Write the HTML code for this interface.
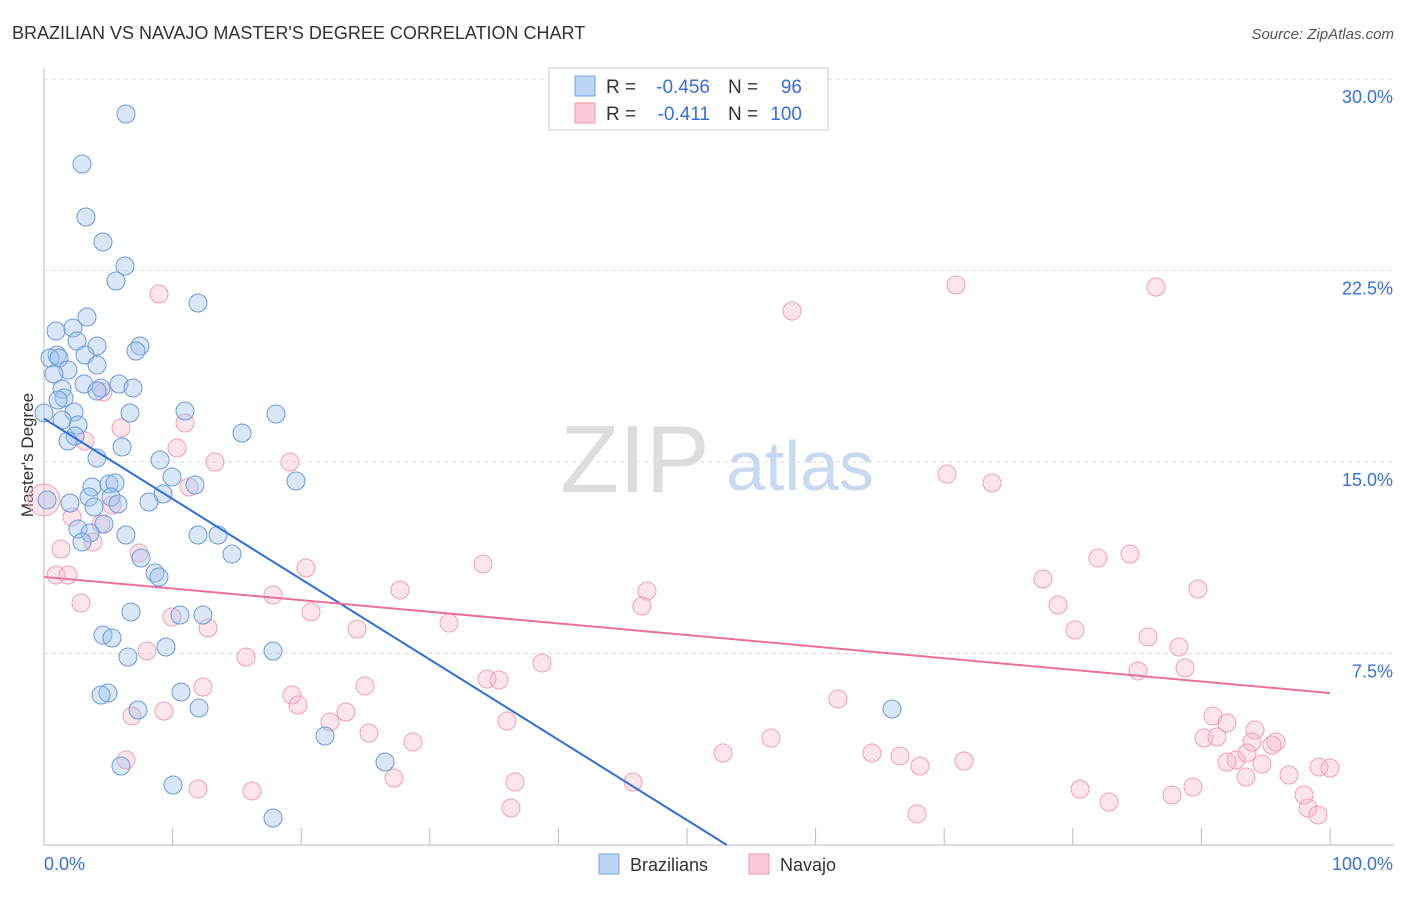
<!DOCTYPE html>
<html><head><meta charset="utf-8"><style>
body{margin:0;background:#fff;font-family:"Liberation Sans",sans-serif}
svg text{font-family:"Liberation Sans",sans-serif}
</style></head><body>
<svg id="c" width="1406" height="892" xmlns="http://www.w3.org/2000/svg">
<text x="12" y="39" font-size="18" fill="#333">BRAZILIAN VS NAVAJO MASTER'S DEGREE CORRELATION CHART</text>
<text x="1394" y="39" font-size="15" fill="#555" font-style="italic" text-anchor="end">Source: ZipAtlas.com</text>
<text x="33" y="455" font-size="17" fill="#333" text-anchor="middle" transform="rotate(-90 33 455)">Master's Degree</text>
<g><text x="635" y="492" font-size="96" fill="#ddd" font-family="Liberation Serif" text-anchor="middle">ZIP</text><text x="800" y="490" font-size="70" fill="#c9daf0" text-anchor="middle">atlas</text></g>
<g id="grid"></g><g id="pts"></g><g id="lines"></g>
<g>
<rect x="549" y="68" width="279" height="62" fill="#fff" stroke="#ccc"/>
<rect x="575" y="76" width="20" height="20" fill="#bcd4f5" stroke="#7aa5e0"/>
<rect x="575" y="103" width="20" height="20" fill="#fbc9d8" stroke="#ee99b3"/>
<text x="606" y="93" font-size="19" fill="#333">R =</text>
<text x="710" y="93" font-size="19" fill="#3a6fd8" text-anchor="end">-0.456</text>
<text x="728" y="93" font-size="19" fill="#333">N =</text>
<text x="802" y="93" font-size="19" fill="#3a6fd8" text-anchor="end">96</text>
<text x="606" y="120" font-size="19" fill="#333">R =</text>
<text x="710" y="120" font-size="19" fill="#3a6fd8" text-anchor="end">-0.411</text>
<text x="728" y="120" font-size="19" fill="#333">N =</text>
<text x="802" y="120" font-size="19" fill="#3a6fd8" text-anchor="end">100</text>
</g>
<g>
<rect x="599" y="854" width="20" height="20" fill="#bcd4f5" stroke="#7aa5e0"/>
<text x="630" y="871" font-size="18" fill="#333">Brazilians</text>
<rect x="749" y="854" width="20" height="20" fill="#fbc9d8" stroke="#ee99b3"/>
<text x="780" y="871" font-size="18" fill="#333">Navajo</text>
</g>
</svg>
<script>
const yTicks=[7.5,15,22.5,30];
const xTickLabels=["0.0%","100.0%"];
const blueX=[126,82,86,103,125,116,198,87,56,73,140,97,77,136,57,85,50,59,97,68,54,119,101,84,133,97,62,64,58,130,74,185,276,78,62,242,75,68,122,97,160,172,296,195,92,109,115,163,89,111,70,149,118,94,104,78,90,126,198,218,82,232,141,155,159,180,203,131,103,112,166,128,273,181,108,101,138,199,892,325,121,173,385,273,47,44].map(p=>(p-44)/12.86);
const blueY=[114,164,217,242,266,281,303,317,331,328,346,346,341,351,355,355,358,358,365,370,374,384,388,384,388,391,389,398,400,413,412,411,414,425,420,433,436,441,447,458,460,477,481,485,487,484,483,494,497,497,503,502,504,507,524,529,533,535,535,535,542,554,558,573,577,615,615,612,635,638,647,657,651,692,693,695,710,708,709,736,766,785,762,818,500,413].map(p=>(845-p)/25.53);
const pinkX=[44,159,792,956,1156,103,85,121,177,185,215,290,189,112,101,72,93,61,139,56,68,306,483,947,992,1130,1098,1043,647,642,400,273,311,81,1058,1198,208,357,449,1075,1148,1179,172,147,246,542,1138,1185,365,487,499,203,292,298,838,346,330,507,164,132,369,413,1213,1227,1255,1252,1204,1217,1276,1272,723,771,872,900,920,964,126,1236,1227,1262,1289,1319,1330,1246,1193,1172,1080,1109,633,515,394,252,198,511,917,1308,1318,1304,1247].map(p=>(p-44)/12.86);
const pinkY=[500,294,311,285,287,392,441,428,448,423,462,462,487,505,524,517,542,549,553,575,575,568,564,474,483,554,558,579,591,606,590,595,612,603,605,589,628,629,623,630,637,647,617,651,657,663,671,668,686,679,680,687,695,705,699,712,722,721,711,716,733,742,716,723,730,742,738,737,742,745,753,738,753,756,766,761,760,760,762,764,775,767,768,777,787,795,789,802,782,782,778,791,789,808,814,808,815,795,753].map(p=>(845-p)/25.53);
const blueTrend=[16.7,-0.3145]; // y at x=0, slope per %
const pinkTrend=[10.5,-0.0455];
const X=v=>44+v*12.86, Y=v=>845-v*25.53;
const NS="http://www.w3.org/2000/svg";
function mk(t,a,p){const e=document.createElementNS(NS,t);for(const k in a)e.setAttribute(k,a[k]);p.appendChild(e);return e;}
const g=document.getElementById('grid');
yTicks.forEach(t=>{const l=mk('line',{x1:44,x2:1394,y1:Y(t),y2:Y(t),stroke:'#ddd','stroke-dasharray':'4 4'},g);


const tx=mk('text',{x:1393,y:Y(t)+24,'font-size':18,fill:'#3a6fd8','text-anchor':'end'},g);tx.textContent=t.toFixed(1)+'%';

});
const ax=mk('line',{x1:44,x2:1394,y1:845,y2:845,stroke:'#bbb'},g);


const ay=mk('line',{x1:44,x2:44,y1:68,y2:845,stroke:'#bbb'},g);


for(let i=0;i<=10;i++){const t=mk('line',{x1:X(i*10),x2:X(i*10),y1:828,y2:845,stroke:'#bbb'},g);

}
[[0,'start',44],[100,'end',1393]].forEach((d,i)=>{const t=mk('text',{x:d[2],y:870,'font-size':18,fill:'#3a6fd8','text-anchor':d[1]},g);t.textContent=xTickLabels[i];

});
const pg=document.getElementById('pts');
pinkX.forEach((x,i)=>{const c=mk('circle',{cx:X(x),cy:Y(pinkY[i]),r:i==0?16:9,fill:'rgba(248,180,200,0.35)',stroke:'#eea0b8','stroke-width':1},pg);

});
blueX.forEach((x,i)=>{const c=mk('circle',{cx:X(x),cy:Y(blueY[i]),r:9,fill:'rgba(160,195,240,0.4)',stroke:'#6c9ad8','stroke-width':1},pg);

});
const lg=document.getElementById('lines');
const bEnd=-blueTrend[0]/blueTrend[1];
const bl=mk('line',{x1:X(0),y1:Y(blueTrend[0]),x2:X(bEnd),y2:Y(0),stroke:'#2f6fd6','stroke-width':2},lg);


const pl=mk('line',{x1:X(0),y1:Y(pinkTrend[0]),x2:X(100),y2:Y(pinkTrend[0]+100*pinkTrend[1]),stroke:'#e8709a','stroke-width':2},lg);


</script>
</body></html>
